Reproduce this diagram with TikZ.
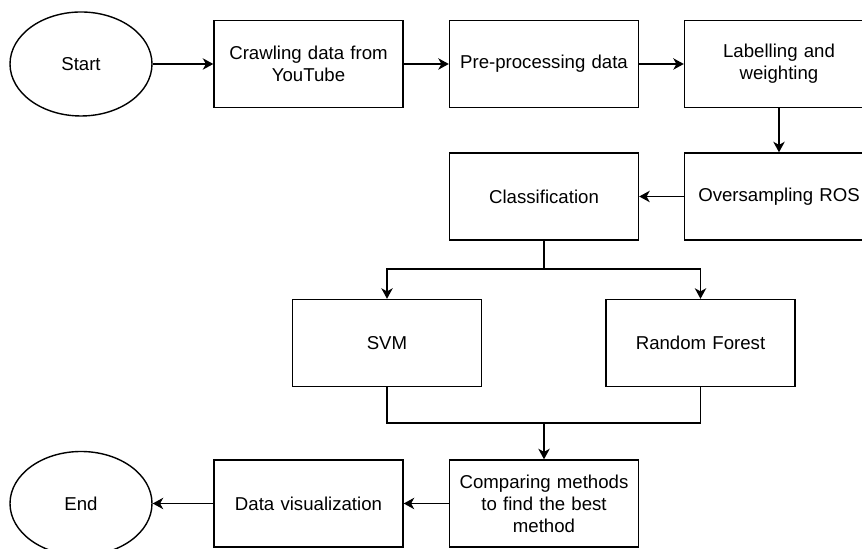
\documentclass[tikz,border=0pt]{standalone}
\usepackage{fontspec}
\setmainfont{Liberation Sans}
\usetikzlibrary{shapes.geometric,arrows.meta}

\begin{document}
\begin{tikzpicture}
  [line width=.8pt,>={Stealth[length=6pt,width=6.5pt,inset=1.8pt]},
   every node/.style={draw,align=center,font=\fontsize{10.6}{12.5}\selectfont},
   box/.style={rectangle,minimum width=3.78cm,minimum height=1.74cm,text width=3.4cm},
   term/.style={ellipse,minimum width=2.84cm,minimum height=2.08cm}]
  \useasboundingbox (0,0) rectangle (17.24,10.98);
  \node[term] (start) at (1.62,9.70) {Start};
  \node[box] (crawl) at (6.17,9.70) {Crawling data from\\YouTube};
  \node[box] (prep) at (10.88,9.70) {Pre-processing data};
  \node[box] (label) at (15.58,9.70) {Labelling and\\weighting};
  \node[box] (ros) at (15.58,7.05) {Oversampling ROS};
  \node[box] (class) at (10.88,7.05) {Classification};
  \node[box] (svm) at (7.74,4.12) {SVM};
  \node[box] (rf) at (14.01,4.12) {Random Forest};
  \node[box] (comp) at (10.88,0.91) {Comparing methods\\to find the best\\method};
  \node[box] (vis) at (6.17,0.91) {Data visualization};
  \node[term] (end) at (1.62,0.91) {End};
  \coordinate (split) at (10.88,5.60);
  \coordinate (join) at (10.88,2.52);

  \foreach \from/\to in {start/crawl,crawl/prep,prep/label,label/ros,ros/class,join/comp,comp/vis,vis/end}
    \draw[->] (\from) -- (\to);

  \draw (class) -- (split);
  \draw[->] (split) -| (svm);
  \draw[->] (split) -| (rf);
  \draw (svm) |- (join);
  \draw (rf) |- (join);

\end{tikzpicture}
\end{document}
